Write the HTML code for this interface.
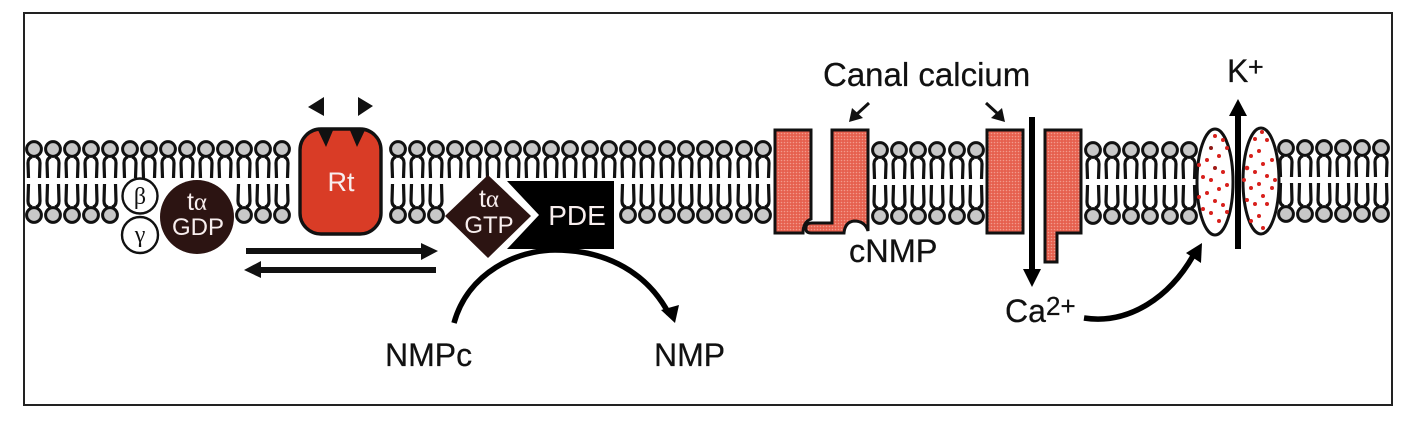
<!DOCTYPE html>
<html>
<head>
<meta charset="utf-8">
<style>
html,body{margin:0;padding:0;background:#fff;width:1416px;height:424px;overflow:hidden}
svg{display:block}
text{font-family:"Liberation Sans",sans-serif;fill:#111;stroke:#111;stroke-width:.25}
.w{fill:#f8eeee;stroke:none}
</style>
</head>
<body>
<svg width="1416" height="424" viewBox="0 0 1416 424" xmlns="http://www.w3.org/2000/svg">
<defs>
<g id="t"><path d="M-5.5,29 L-6,14 Q-6,9 -2,8 M5.5,29 L6,14 Q6,9 2,8" fill="none" stroke="#111" stroke-width="3.2"/><circle r="7.4" fill="#c8c8c8" stroke="#111" stroke-width="3"/></g>
<g id="b"><path d="M-5.5,-31 L-6,-14 Q-6,-9 -2,-8 M5.5,-31 L6,-14 Q6,-9 2,-8" fill="none" stroke="#111" stroke-width="3.2"/><circle r="7.4" fill="#c8c8c8" stroke="#111" stroke-width="3"/></g>
<g id="p"><use href="#t" y="0"/><use href="#b" y="66"/></g>
<pattern id="tx" width="3" height="3" patternUnits="userSpaceOnUse"><rect width="3" height="3" fill="#e6604e"/><circle cx="1.5" cy="1.5" r=".8" fill="#f29a8c"/></pattern>
</defs>
<rect width="1416" height="424" fill="#fff"/>
<rect x="24" y="13" width="1368" height="392" fill="none" stroke="#222" stroke-width="2"/>

<!-- Group 1 -->
<g transform="translate(0,149)">
<use href="#p" x="34"/><use href="#p" x="53"/><use href="#p" x="72"/><use href="#p" x="91"/><use href="#p" x="110"/>
<use href="#t" x="130"/><use href="#t" x="149"/><use href="#t" x="168"/><use href="#t" x="187"/><use href="#t" x="206"/><use href="#t" x="225"/>
<use href="#p" x="244"/><use href="#p" x="263"/><use href="#p" x="282"/>
</g>
<!-- Group 2 -->
<g transform="translate(0,149)">
<use href="#p" x="398"/><use href="#p" x="417"/><use href="#p" x="436"/>
<use href="#t" x="455"/><use href="#t" x="474"/><use href="#t" x="493"/><use href="#t" x="513"/><use href="#t" x="532"/><use href="#t" x="551"/><use href="#t" x="570"/><use href="#t" x="590"/><use href="#t" x="609"/>
<use href="#p" x="628"/><use href="#p" x="647"/><use href="#p" x="667"/><use href="#p" x="686"/><use href="#p" x="705"/><use href="#p" x="724"/><use href="#p" x="744"/><use href="#p" x="763"/>
</g>
<!-- Group 3 -->
<g transform="translate(0,150)">
<use href="#p" x="880"/><use href="#p" x="899"/><use href="#p" x="918"/><use href="#p" x="937"/><use href="#p" x="957"/><use href="#p" x="976"/>
</g>
<!-- Group 4 -->
<g transform="translate(0,150)">
<use href="#p" x="1093"/><use href="#p" x="1112"/><use href="#p" x="1131"/><use href="#p" x="1150"/><use href="#p" x="1170"/><use href="#p" x="1189"/>
</g>
<!-- Group 5 -->
<g transform="translate(0,148)">
<use href="#p" x="1286"/><use href="#p" x="1305"/><use href="#p" x="1324"/><use href="#p" x="1343"/><use href="#p" x="1362"/><use href="#p" x="1381"/>
</g>
<rect x="1391" y="120" width="2" height="110" fill="#222"/>
<rect x="1393" y="120" width="12" height="110" fill="#fff"/>

<!-- G protein -->
<circle cx="140" cy="196" r="17.5" fill="#fff" stroke="#111" stroke-width="2.4"/>
<circle cx="140" cy="235" r="18" fill="#fff" stroke="#111" stroke-width="2.4"/>
<text x="140" y="204" text-anchor="middle" font-size="24" style="font-family:'Liberation Serif',serif;stroke:none">β</text>
<text x="140" y="242" text-anchor="middle" font-size="24" style="font-family:'Liberation Serif',serif;stroke:none">γ</text>
<circle cx="197" cy="217" r="37" fill="#2c1412"/>
<text x="197" y="210" text-anchor="middle" font-size="25" class="w">t<tspan style="font-family:'Liberation Serif',serif">α</tspan></text>
<text x="198" y="235" text-anchor="middle" font-size="24" class="w">GDP</text>

<!-- Rt -->
<rect x="300" y="129" width="81" height="105" rx="21" fill="#d93c26" stroke="#111" stroke-width="3.4"/>
<path d="M317,128 H334 L326,147 Z M349,128 H366 L357,147 Z" fill="#111"/>
<text x="341" y="191" text-anchor="middle" font-size="27" class="w">Rt</text>
<path d="M308,107 L324,97 V116 Z M358,97 L373,106 L358,116 Z" fill="#111"/>

<!-- Equilibrium arrows -->
<path d="M246,248 H421 V243 L438,251 L421,260 V254 H246 Z" fill="#111"/>
<path d="M436,267 H261 V261 L244,270 L261,278 V273 H436 Z" fill="#111"/>

<!-- GTP + PDE -->
<path d="M507,181 H614 V249 H507 L539,215 Z" fill="#000"/>
<path d="M488,175 L531,216 L488,258 L445,216 Z" fill="#2c1412"/>
<text x="489" y="207" text-anchor="middle" font-size="25" class="w">t<tspan style="font-family:'Liberation Serif',serif">α</tspan></text>
<text x="489" y="233" text-anchor="middle" font-size="24" class="w">GTP</text>
<text x="577" y="225" text-anchor="middle" font-size="28" class="w">PDE</text>

<!-- Curved reaction arrow -->
<path d="M454,323 C468,272 518,250 555,250 C608,250 648,274 669,314" fill="none" stroke="#000" stroke-width="5.5"/>
<path d="M675,323 L661,310 L679,305 Z" fill="#000"/>
<text x="385" y="366" font-size="32">NMPc</text>
<text x="654" y="366" font-size="32">NMP</text>

<!-- Canal calcium -->
<g fill="url(#tx)" stroke="#111" stroke-width="3">
<path d="M775,130 H811 V219 Q803,222 803,233 H775 Z"/>
<path d="M832,130 H868 V231 Q865,221 854,221 Q845,222 844,233 H811 Q805,233 806,227 Q806,223 812,223 H832 Z"/>
<rect x="987" y="130" width="36" height="103"/>
<path d="M1045,130 H1081 V233 H1057 V262 H1045 Z"/>
</g>
<text x="823" y="86" font-size="33">Canal calcium</text>
<text x="849" y="262" font-size="32.5">cNMP</text>

<!-- small pointers -->
<path d="M869,103 L857,114" stroke="#111" stroke-width="3" fill="none"/>
<path d="M849,122 L852,108 L863,118 Z" fill="#111"/>
<path d="M986,103 L998,114" stroke="#111" stroke-width="3" fill="none"/>
<path d="M1005,122 L1002,108 L991,118 Z" fill="#111"/>

<!-- Ca arrow -->
<path d="M1029,117 H1035 V269 H1041 L1032,287 L1023,269 H1029 Z" fill="#000"/>
<text x="1005" y="322" font-size="32">Ca</text>
<text x="1046" y="315" font-size="26">2+</text>
<path d="M1084,318 C1130,325 1170,296 1193,256" fill="none" stroke="#000" stroke-width="5.5"/>
<path d="M1202,243 L1186,253 L1201,263 Z" fill="#000"/>

<!-- K channel -->
<ellipse cx="1215" cy="182" rx="18" ry="53" fill="#fff" stroke="#111" stroke-width="3"/>
<ellipse cx="1261" cy="181" rx="18" ry="53" fill="#fff" stroke="#111" stroke-width="3"/>
<g fill="#d8201c">
<circle cx="1215" cy="136" r="2"/><circle cx="1223" cy="140" r="2"/><circle cx="1211" cy="148" r="2" fill="#8e1a16"/><circle cx="1227" cy="148" r="2"/><circle cx="1219" cy="156" r="2"/><circle cx="1207" cy="160" r="2"/><circle cx="1199" cy="165" r="2"/><circle cx="1215" cy="168" r="2" fill="#a01a16"/><circle cx="1223" cy="172" r="2"/><circle cx="1203" cy="177" r="2"/><circle cx="1211" cy="180" r="2"/><circle cx="1227" cy="185" r="2"/><circle cx="1219" cy="189" r="2"/><circle cx="1207" cy="193" r="2"/><circle cx="1199" cy="197" r="2"/><circle cx="1215" cy="201" r="2"/><circle cx="1223" cy="205" r="2"/><circle cx="1203" cy="209" r="2"/><circle cx="1211" cy="213" r="2"/><circle cx="1227" cy="212" r="2"/><circle cx="1219" cy="221" r="2"/>
<circle cx="1262" cy="132" r="2"/><circle cx="1255" cy="139" r="2"/><circle cx="1267" cy="140" r="2"/><circle cx="1259" cy="151" r="2"/><circle cx="1251" cy="156" r="2"/><circle cx="1272" cy="160" r="2"/><circle cx="1263" cy="164" r="2"/><circle cx="1247" cy="168" r="2.3"/><circle cx="1255" cy="172" r="2"/><circle cx="1267" cy="176" r="2"/><circle cx="1244" cy="180" r="2"/><circle cx="1275" cy="180" r="2"/><circle cx="1259" cy="184" r="2"/><circle cx="1251" cy="188" r="2"/><circle cx="1272" cy="188" r="2"/><circle cx="1263" cy="196" r="2"/><circle cx="1247" cy="200" r="2"/><circle cx="1255" cy="204" r="2"/><circle cx="1267" cy="204" r="2"/><circle cx="1259" cy="216" r="2"/><circle cx="1251" cy="221" r="2"/><circle cx="1263" cy="228" r="2"/>
</g>
<path d="M1235,249 V116 H1229 L1238,99 L1247,116 H1241 V249 Z" fill="#000"/>
<text x="1227" y="82" font-size="32">K</text>
<text x="1248" y="76" font-size="27">+</text>
</svg>
</body>
</html>
